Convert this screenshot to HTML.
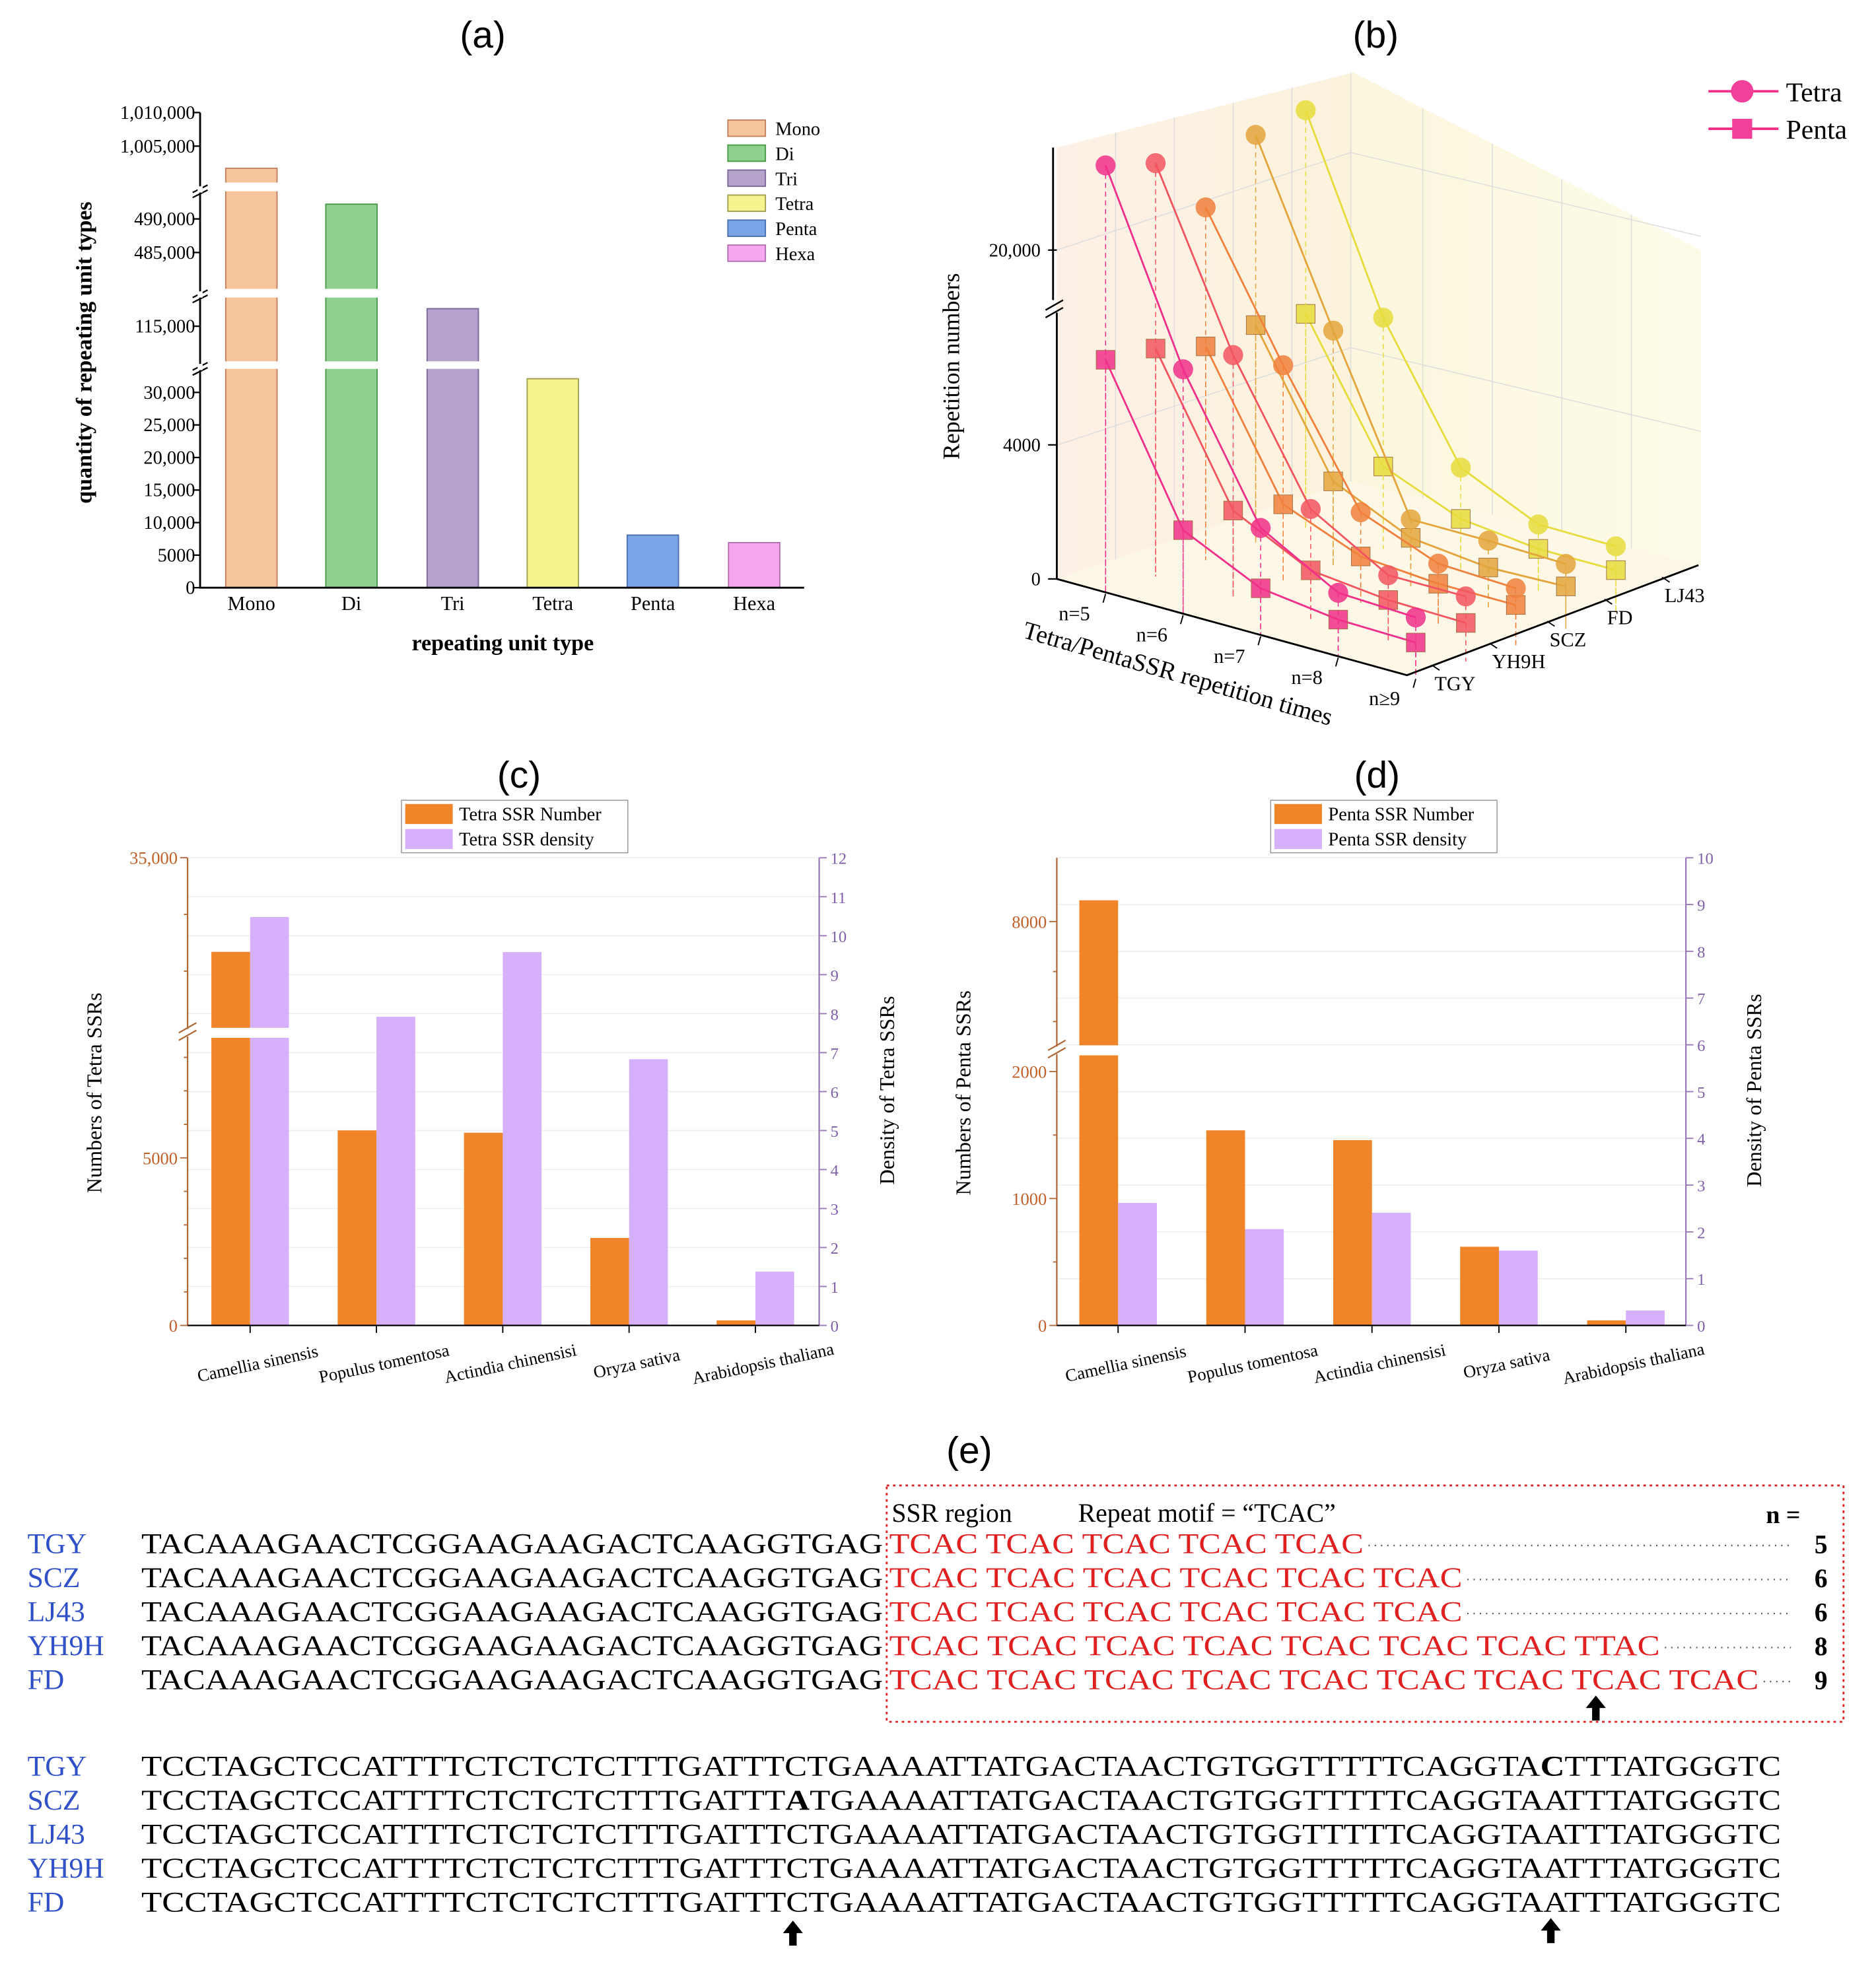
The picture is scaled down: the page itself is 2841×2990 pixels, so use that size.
<!DOCTYPE html>
<html><head><meta charset="utf-8"><style>
html,body{margin:0;padding:0;background:#fff;}
svg{display:block;}
</style></head><body>
<svg id="fig" xmlns="http://www.w3.org/2000/svg" width="2841" height="2990" viewBox="0 0 1500 1578.7" preserveAspectRatio="none" font-family="'Liberation Serif', serif">
<defs>
<linearGradient id="wallL" x1="0" y1="0" x2="1" y2="0"><stop offset="0" stop-color="#fdf0e6"/><stop offset="1" stop-color="#fbf3dc"/></linearGradient>
<linearGradient id="wallB" x1="0" y1="0" x2="1" y2="0"><stop offset="0" stop-color="#fbf6dd"/><stop offset="1" stop-color="#fdfbe8"/></linearGradient>
</defs>
<g id="pa"></g>
<g id="pb"></g>
<g id="pc"></g>
<g id="pd"></g>
<g id="pe"></g>
</svg>
<script>
// ---------- Panel (a) data ----------
const aCategories = ["Mono","Di","Tri","Tetra","Penta","Hexa"];
const aValues = [1001700, 492200, 117700, 32100, 8080, 6920];
const aTickValues = [0,5000,10000,15000,20000,25000,30000,115000,485000,490000,1005000,1010000];
const aTickLabels = ["0","5000","10,000","15,000","20,000","25,000","30,000","115,000","485,000","490,000","1,005,000","1,010,000"];
// ---------- Panel (b) data ----------
const bRepeats = ["n=5","n=6","n=7","n=8","n≥9"];
const bCultivars = ["TGY","YH9H","SCZ","FD","LJ43"];
const bTetraTGY = [23500,7300,3200,1900,1800];
const bTetraYH9H = [23000,7240,3280,1940,1940];
const bTetraSCZ = [20850,6450,2700,1800,1700];
const bTetraFD = [22850,7000,2000,2000,1940];
const bTetraLJ43 = [23150,6900,3060,2000,1980];
const bPentaTGY = [6950,2500,1400,1100,1050];
const bPentaYH9H = [6800,2600,1450,1200,1150];
const bPentaSCZ = [6380,2300,1380,1200,1200];
const bPentaFD = [6530,2500,1450,1200,1270];
const bPentaLJ43 = [6380,2460,1530,1270,1270];
const bTickValues = [0,4000,20000];
const bTickLabels = ["0","4000","20,000"];
// ---------- Panel (c)/(d) data ----------
const species = ["Camellia sinensis","Populus tomentosa","Actindia chinensisi","Oryza sativa","Arabidopsis thaliana"];
const cNumber = [26700,5820,5750,2610,150];
const cDensity = [10.48,7.92,9.58,6.83,1.38];
const dNumber = [8425,1537,1460,620,40];
const dDensity = [2.62,2.06,2.41,1.6,0.32];

const NS="http://www.w3.org/2000/svg";
function mk(parent, tag, attrs, text){
  const e=document.createElementNS(NS,tag);
  for(const k in attrs) e.setAttribute(k,attrs[k]);
  if(text!==undefined) e.textContent=text;
  parent.appendChild(e); return e;
}

// ================= PANEL A =================
(function(){
  const g=document.getElementById('pa');
  const t=mk(g,'text',{x:386,y:38,'font-family':"'Liberation Sans',sans-serif",'font-size':30,'text-anchor':'middle'},'(a)');
   
  const segs=[{v0:0,v1:34000,y0:470,y1:293},{v0:109400,v1:119600,y0:290,y1:237},{v0:479400,v1:494300,y0:232,y1:152},{v0:999200,v1:1010000,y0:148,y1:90}];
  function yA(v){for(const s of segs){if(v<=s.v1)return s.y0+(v-s.v0)/(s.v1-s.v0)*(s.y1-s.y0);}return 90;}
  const colors=["#f6c49a","#8fd08f","#b6a3cc","#f7f48f","#7aa5e6","#f5a6ef"];
  const strokes=["#c08060","#4a9a4a","#7a6a9a","#a0a050","#4a70b0","#b070b0"];
  const xs=[201,281,362,442,522,603];
  aCategories.forEach((c,i)=>{
    const y=yA(aValues[i]);
    const r=mk(g,'rect',{x:xs[i]-20.5,y:y,width:41,height:470-y,fill:colors[i],stroke:strokes[i],'stroke-width':1});
     
    const l=mk(g,'text',{x:xs[i],y:488,'font-size':16,'text-anchor':'middle'},c);
     
  });
  [[289,295],[231,238],[146,153]].forEach(gp=>{
    const r=mk(g,'rect',{x:170,y:gp[0],width:300,height:gp[1]-gp[0],fill:'#fff'});
     
  });
  const ax=mk(g,'path',{d:'M160,90 V470 H643',stroke:'#000','stroke-width':1.5,fill:'none'});
   
  [292,234,150].forEach(yb=>{
    const br=mk(g,'path',{d:`M154,${yb+4} L166,${yb-2} M154,${yb+8} L166,${yb+2}`,stroke:'#000','stroke-width':1.2,fill:'none'});
     
    mk(g,'rect',{x:158,y:yb-1,width:4,height:5,fill:'#fff'});
  });
  aTickValues.forEach((v,i)=>{
    const y=yA(v);
    mk(g,'line',{x1:154,y1:y,x2:160,y2:y,stroke:'#000','stroke-width':1.2});
    const l=mk(g,'text',{x:156,y:y+5,'font-size':15,'text-anchor':'end'},aTickLabels[i]);
     
  });
  const yt=mk(g,'text',{x:0,y:0,'font-size':18,'font-weight':'bold','text-anchor':'middle',transform:'translate(73,282) rotate(-90)'},'quantity of repeating unit types');
   
  const xt=mk(g,'text',{x:402,y:520,'font-size':18,'font-weight':'bold','text-anchor':'middle'},'repeating unit type');
   
  aCategories.forEach((c,i)=>{
    const y=96+i*20;
    const b=mk(g,'rect',{x:582,y:y,width:30,height:13,fill:colors[i],stroke:strokes[i]});
     
    const l=mk(g,'text',{x:620,y:y+12,'font-size':15},c);
     
  });
})();

// ================= PANEL B =================
(function(){
  const g=document.getElementById('pb');
  const t=mk(g,'text',{x:1100,y:38,'font-family':"'Liberation Sans',sans-serif",'font-size':30,'text-anchor':'middle'},'(b)');
   
  const lw=mk(g,'polygon',{points:'845,118 1082,58 1080,385 845,463',fill:'url(#wallL)'});
   
  const bw=mk(g,'polygon',{points:'1082,58 1360,200 1360,452 1080,385',fill:'url(#wallB)'});
   
  const fl=mk(g,'polygon',{points:'845,463 1080,385 1360,452 1125,540',fill:'#fcf7e6'});
   
  function hB(v){ if(v<=8000) return v*0.0268; return 218+(v-18000)*0.0225; }
  function gx(i,d){return 884+62*i+40*d;}
  function gy(i,d){return 474+17*i-13*d;}
  for(let k=1;k<6;k++){
    const x=845+k*47, yTop=118-k*12, yBot=463-k*15.6;
    mk(g,'line',{x1:x,y1:yTop,x2:x,y2:yBot,stroke:'#ddd','stroke-width':0.8});
  }
  for(let k=1;k<5;k++){
    const x=1082+k*55.6;
    mk(g,'line',{x1:x,y1:58+k*28.4,x2:x,y2:385+k*13.4,stroke:'#ddd','stroke-width':0.8});
  }
  [107,263].forEach(h=>{
    mk(g,'polyline',{points:`845,${463-h} 1080,${385-h} 1360,${452-h}`,fill:'none',stroke:'#ddd','stroke-width':0.8});
  });
  const tetra=[bTetraTGY,bTetraYH9H,bTetraSCZ,bTetraFD,bTetraLJ43];
  const penta=[bPentaTGY,bPentaYH9H,bPentaSCZ,bPentaFD,bPentaLJ43];
  const cols=["#f0308a","#f25560","#f0803c","#e3a53c","#e6dc3c"];
  for(let d=4;d>=0;d--){
    [penta[d],tetra[d]].forEach((arr,si)=>{
      const pts=arr.map((v,i)=>[gx(i,d),gy(i,d)-hB(v)]);
      arr.forEach((v,i)=>{
        const dl=mk(g,'line',{x1:pts[i][0],y1:pts[i][1],x2:gx(i,d),y2:gy(i,d),stroke:cols[d],'stroke-width':0.8,'stroke-dasharray':'4,3'});
         
      });
      const pl=mk(g,'polyline',{points:pts.map(p=>p.join(',')).join(' '),fill:'none',stroke:cols[d],'stroke-width':1.5});
       
      pts.forEach(p=>{
        let m;
        if(si) m=mk(g,'circle',{cx:p[0],cy:p[1],r:8,fill:cols[d],'fill-opacity':0.85});
        else m=mk(g,'rect',{x:p[0]-7.5,y:p[1]-7.5,width:15,height:15,fill:cols[d],stroke:'#a07040','stroke-width':0.5,'fill-opacity':0.85});
         
      });
    });
  }
  const va=mk(g,'path',{d:'M842,118 V240 M845,250 V463 L1125,540 L1358,452',stroke:'#000','stroke-width':1.5,fill:'none'});
   
  mk(g,'path',{d:'M836,248 L850,240 M836,254 L850,246',stroke:'#000','stroke-width':1.3});
  bTickValues.forEach((v,i)=>{
    const y=463-hB(v);
    mk(g,'line',{x1:838,y1:y,x2:845,y2:y,stroke:'#000','stroke-width':1.2});
    const l=mk(g,'text',{x:832,y:y+5,'font-size':15,'text-anchor':'end'},bTickLabels[i]);
     
  });
  bRepeats.forEach((r,i)=>{
    const x=gx(i,0), y=gy(i,0);
    mk(g,'line',{x1:x,y1:y+1,x2:x-2,y2:y+8,stroke:'#000'});
    const l=mk(g,'text',{x:x-25,y:y+22,'font-size':16,'text-anchor':'middle'},r);
     
  });
  bCultivars.forEach((c,d)=>{
    const x=1125+46*d+20, y=540-17.6*d-8;
    mk(g,'line',{x1:x,y1:y,x2:x+6,y2:y+4,stroke:'#000'});
    const l=mk(g,'text',{x:x+2,y:y+20,'font-size':16},c);
     
  });
  const yt=mk(g,'text',{x:0,y:0,'font-size':19,'text-anchor':'middle',transform:'translate(767,293) rotate(-90)'},'Repetition numbers');
   
  const xt=mk(g,'text',{x:0,y:0,'font-size':20,'text-anchor':'middle',transform:'translate(940,545) rotate(16)'},'Tetra/PentaSSR repetition times');
   
  mk(g,'line',{x1:1366,y1:73,x2:1422,y2:73,stroke:'#f0308a','stroke-width':2});
  const lc=mk(g,'circle',{cx:1393,cy:73,r:9,fill:'#f0409a'});
   
  const l1=mk(g,'text',{x:1428,y:81,'font-size':22},'Tetra');
   
  mk(g,'line',{x1:1366,y1:103,x2:1422,y2:103,stroke:'#f0308a','stroke-width':2});
  const ls=mk(g,'rect',{x:1385,y:95,width:16,height:16,fill:'#f0409a'});
   
  const l2=mk(g,'text',{x:1428,y:111,'font-size':22},'Penta');
   
})();

// ================= PANELS C / D =================
function dualBar(gid, title, tx, cfg, numbers, dens){
  const g=document.getElementById(gid);
  const t=mk(g,'text',{x:tx,y:630,'font-family':"'Liberation Sans',sans-serif",'font-size':30,'text-anchor':'middle'},title);
   
  const L=cfg.L,R=cfg.R,B=1060,T=686;
  function yN(v){ if(v<=cfg.lowMax) return B-v*cfg.lowScale; return cfg.upY0-(v-cfg.upV0)*cfg.upScale; }
  function yD(v){ return B-v*(B-T)/cfg.dMax; }
  for(let k=0;k<=cfg.dMax;k++){
    const y=yD(k);
    mk(g,'line',{x1:R,y1:y,x2:R+6,y2:y,stroke:'#9a7ab8','stroke-width':1});
    const l=mk(g,'text',{x:R+9,y:y+5,'font-size':13,fill:'#8060a8'},String(k));
     
  }
  for(let k=1;k<=cfg.dMax;k++){
    mk(g,'line',{x1:L,y1:yD(k),x2:R,y2:yD(k),stroke:'#eee','stroke-width':0.8});
  }
  species.forEach((s,i)=>{
    const x0=cfg.x0+i*cfg.step;
    const yn=yN(numbers[i]);
    const b1=mk(g,'rect',{x:x0,y:yn,width:31,height:B-yn,fill:'#ef8429'});
     
    const yd=yD(dens[i]);
    const b2=mk(g,'rect',{x:x0+31,y:yd,width:31,height:B-yd,fill:'#d7b0fb'});
     
    mk(g,'line',{x1:x0+31,y1:B,x2:x0+31,y2:B+6,stroke:'#000'});
    const l=mk(g,'text',{x:0,y:0,'font-size':14,'text-anchor':'middle',transform:`translate(${x0+38},${B+35}) rotate(-12)`},s);
     
  });
  const gap=mk(g,'rect',{x:L+1,y:cfg.brk-4,width:cfg.step,height:8,fill:'#fff'});
   
  mk(g,'line',{x1:L,y1:T,x2:L,y2:B,stroke:'#b06a3a','stroke-width':1.2});
  mk(g,'rect',{x:L-3,y:cfg.brk-3,width:6,height:6,fill:'#fff'});
  mk(g,'path',{d:`M${L-7},${cfg.brk} L${L+7},${cfg.brk-8} M${L-7},${cfg.brk+6} L${L+7},${cfg.brk-2}`,stroke:'#b06a3a','stroke-width':1.2});
  mk(g,'line',{x1:R,y1:T,x2:R,y2:B,stroke:'#9a7ab8','stroke-width':1.2});
  mk(g,'line',{x1:L,y1:B,x2:R,y2:B,stroke:'#000','stroke-width':1.2});
  cfg.ticks.forEach((v,i)=>{
    const y=yN(v);
    mk(g,'line',{x1:L-6,y1:y,x2:L,y2:y,stroke:'#b06a3a'});
    const l=mk(g,'text',{x:L-8,y:y+5,'font-size':14,'text-anchor':'end',fill:'#c0602a'},cfg.tickLabels[i]);
     
  });
  cfg.minor.forEach(v=>mk(g,'line',{x1:L-3,y1:yN(v),x2:L,y2:yN(v),stroke:'#b06a3a'}));
  const yl=mk(g,'text',{x:0,y:0,'font-size':17,'text-anchor':'middle',transform:`translate(${L-69},${874}) rotate(-90)`},cfg.leftTitle);
   
  const yr=mk(g,'text',{x:0,y:0,'font-size':17,'text-anchor':'middle',transform:`translate(${R+60},${872}) rotate(-90)`},cfg.rightTitle);
   
  const lb=mk(g,'rect',{x:cfg.lx,y:640,width:181,height:42,fill:'#fff',stroke:'#999','stroke-width':0.8});
   
  mk(g,'rect',{x:cfg.lx+3,y:643,width:38,height:16,fill:'#ef8429'});
  mk(g,'rect',{x:cfg.lx+3,y:663,width:38,height:16,fill:'#d7b0fb'});
  const e1=mk(g,'text',{x:cfg.lx+46,y:656,'font-size':15},cfg.leg1);
   
  const e2=mk(g,'text',{x:cfg.lx+46,y:676,'font-size':15},cfg.leg2);
   
}
dualBar('pc','(c)',415,{L:150,R:655,x0:169,step:101,lowMax:8650,lowScale:0.0268,upV0:20000,upY0:822,upScale:0.00907,brk:826,dMax:12,
  ticks:[0,5000,35000],tickLabels:["0","5000","35,000"],minor:[1000,2000,3000,4000,6000,7000,8000,25000,30000],
  leftTitle:'Numbers of Tetra SSRs',rightTitle:'Density of Tetra SSRs',lx:321,leg1:'Tetra SSR Number',leg2:'Tetra SSR density'},cNumber,cDensity);
dualBar('pd','(d)',1101,{L:845,R:1348,x0:863,step:101.5,lowMax:2150,lowScale:0.1015,upV0:8000,upY0:737,upScale:0.04,brk:840,dMax:10,
  ticks:[0,1000,2000,8000],tickLabels:["0","1000","2000","8000"],minor:[500,1500,6000,7000],
  leftTitle:'Numbers of Penta SSRs',rightTitle:'Density of Penta SSRs',lx:1016,leg1:'Penta SSR Number',leg2:'Penta SSR density'},dNumber,dDensity);

// ================= PANEL E =================
(function(){
  const g=document.getElementById('pe');
  const t=mk(g,'text',{x:775,y:1170,'font-family':"'Liberation Sans',sans-serif",'font-size':30,'text-anchor':'middle'},'(e)');
   
  const box=mk(g,'rect',{x:709,y:1188,width:765,height:189,fill:'none',stroke:'#e02020','stroke-width':1.5,'stroke-dasharray':'2,3'});
   
  const h=mk(g,'text',{x:713,y:1217,'font-size':21},'SSR region');
   
  const h2=mk(g,'text',{x:862,y:1217,'font-size':21},'Repeat motif = “TCAC”');
   
  const n=mk(g,'text',{x:1412,y:1218,'font-size':20,'font-weight':'bold'},'n =');
   
  const names=["TGY","SCZ","LJ43","YH9H","FD"];
  const reps=["TCAC TCAC TCAC TCAC TCAC","TCAC TCAC TCAC TCAC TCAC TCAC","TCAC TCAC TCAC TCAC TCAC TCAC","TCAC TCAC TCAC TCAC TCAC TCAC TCAC TTAC","TCAC TCAC TCAC TCAC TCAC TCAC TCAC TCAC TCAC"];
  const ns=["5","6","6","8","9"];
  names.forEach((nm,i)=>{
    const y=1242+i*27.2;
    const l=mk(g,'text',{x:22,y:y,'font-size':23,fill:'#3050c8'},nm);
     
    const s=mk(g,'text',{x:113,y:y,'font-size':23,textLength:593,lengthAdjust:'spacingAndGlyphs'},'TACAAAGAACTCGGAAGAAGACTCAAGGTGAG');
     
    const len=reps[i].length*15.8;
    const r=mk(g,'text',{x:711,y:y,'font-size':23,fill:'#e02020',textLength:len,lengthAdjust:'spacingAndGlyphs'},reps[i]);
     
    mk(g,'line',{x1:711+len+4,y1:y-6,x2:1432,y2:y-6,stroke:'#555','stroke-width':1.2,'stroke-dasharray':'1,4'});
    const nn=mk(g,'text',{x:1456,y:y,'font-size':21,'font-weight':'bold','text-anchor':'middle'},ns[i]);
     
  });
  const base='TCCTAGCTCCATTTTCTCTCTCTTTGATTTCTGAAAATTATGACTAACTGTGGTTTTTCAGGTAATTTATGGGTC';
  const names2=["TGY","SCZ","LJ43","YH9H","FD"];
  const muts=[[64,'C'],[30,'A'],null,null,null];
  names2.forEach((nm,i)=>{
    const y=1420+i*27.2;
    const l=mk(g,'text',{x:22,y:y,'font-size':23,fill:'#3050c8'},nm);
     
    const s=mk(g,'text',{x:113,y:y,'font-size':23,textLength:1311,lengthAdjust:'spacingAndGlyphs'});
     
    if(muts[i]){
      const p=muts[i][0];
      mk(s,'tspan',{},base.slice(0,p));
      mk(s,'tspan',{'font-weight':'bold'},muts[i][1]);
      mk(s,'tspan',{},base.slice(p+1));
    } else s.textContent=base;
  });
  [[634,1536],[1240,1534],[1276,1356]].forEach(a=>{
    const ar=mk(g,'path',{d:`M${a[0]},${a[1]} l-8,10 h5 v10 h6 v-10 h5 z`,fill:'#000'});
     
  });
})();
</script>
</body></html>
